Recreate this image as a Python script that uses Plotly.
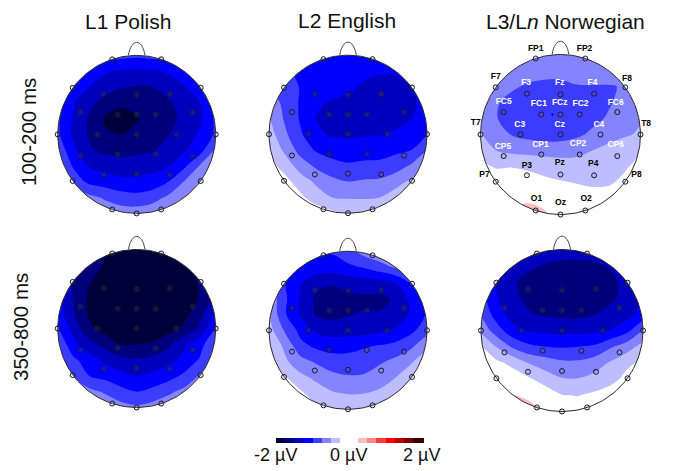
import numpy as np
import plotly.graph_objects as go

# scalp voltage at fixed head coordinates (uV)
# rows go from the nose (y=1.2) to the back (y=-1.2), columns left to right
grid_x = [-1.2, -1.0, -0.8, -0.6, -0.4, -0.2, 0.0, 0.2, 0.4, 0.6, 0.8, 1.0, 1.2]
grid_y = [1.2, 1.0, 0.8, 0.6, 0.4, 0.2, 0.0, -0.2, -0.4, -0.6, -0.8, -1.0, -1.2]

l1_early = [
    [-.70, -.70, -.75, -.80, -.80, -.80, -.80, -.80, -.80, -.80, -.75, -.70, -.70],
    [-.70, -.75, -.80, -.85, -.90, -.92, -.95, -.92, -.90, -.85, -.80, -.75, -.70],
    [-.75, -.80, -.90, -1.05, -1.22, -1.28, -1.28, -1.28, -1.22, -1.05, -.90, -.80, -.75],
    [-.75, -.85, -1.03, -1.25, -1.38, -1.48, -1.52, -1.50, -1.38, -1.27, -1.04, -.85, -.75],
    [-.75, -.90, -1.23, -1.43, -1.60, -1.68, -1.66, -1.60, -1.54, -1.38, -1.25, -.92, -.75],
    [-.75, -.95, -1.28, -1.54, -1.78, -1.90, -1.78, -1.64, -1.57, -1.44, -1.29, -.95, -.75],
    [-.75, -.95, -1.30, -1.53, -1.72, -1.75, -1.66, -1.60, -1.51, -1.35, -1.22, -.95, -.70],
    [-.65, -.80, -1.20, -1.47, -1.55, -1.57, -1.55, -1.52, -1.42, -1.28, -1.10, -.70, -.55],
    [-.60, -.73, -1.03, -1.27, -1.35, -1.40, -1.38, -1.33, -1.27, -1.05, -.73, -.55, -.45],
    [-.50, -.60, -.85, -1.06, -1.12, -1.18, -1.18, -1.15, -1.00, -.74, -.55, -.40, -.30],
    [-.45, -.50, -.60, -.68, -.78, -.88, -.92, -.85, -.70, -.50, -.38, -.30, -.25],
    [-.40, -.45, -.50, -.55, -.60, -.62, -.62, -.58, -.48, -.38, -.30, -.25, -.20],
    [-.35, -.38, -.40, -.42, -.45, -.45, -.45, -.42, -.38, -.30, -.25, -.20, -.20],
]
l2_early = [
    [-.95, -1.0, -1.05, -1.05, -1.05, -1.05, -1.05, -1.05, -1.05, -1.05, -1.05, -1.05, -1.05],
    [-.95, -1.0, -1.05, -1.08, -1.10, -1.12, -1.12, -1.12, -1.12, -1.12, -1.10, -1.08, -1.05],
    [-.85, -.90, -.97, -1.05, -1.10, -1.13, -1.15, -1.20, -1.22, -1.22, -1.20, -1.10, -1.05],
    [-.70, -.75, -.85, -1.02, -1.08, -1.13, -1.20, -1.28, -1.33, -1.33, -1.27, -1.12, -1.05],
    [-.55, -.60, -.82, -1.03, -1.20, -1.28, -1.32, -1.35, -1.38, -1.38, -1.32, -1.12, -1.00],
    [-.40, -.50, -.78, -1.03, -1.26, -1.33, -1.36, -1.38, -1.40, -1.37, -1.26, -1.10, -1.00],
    [-.30, -.38, -.70, -.97, -1.20, -1.28, -1.30, -1.28, -1.27, -1.20, -1.13, -1.02, -.90],
    [-.20, -.27, -.55, -.85, -1.03, -1.10, -1.12, -1.10, -1.08, -1.05, -1.00, -.76, -.65],
    [-.10, -.15, -.35, -.62, -.80, -.92, -.97, -.95, -.95, -.87, -.72, -.50, -.40],
    [0.0, -.10, -.17, -.37, -.55, -.68, -.75, -.72, -.70, -.60, -.45, -.30, -.20],
    [0.0, 0.0, -.05, -.20, -.38, -.50, -.52, -.52, -.50, -.38, -.28, -.20, -.10],
    [0.0, 0.0, 0.0, 0.0, -.10, -.20, -.30, -.32, -.33, -.28, -.20, -.10, 0.0],
    [0.0, 0.0, 0.0, 0.0, 0.0, -.10, -.15, -.20, -.20, -.15, -.10, 0.0, 0.0],
]
l3_early = [
    [-.60, -.60, -.60, -.60, -.60, -.60, -.60, -.60, -.60, -.60, -.60, -.60, -.60],
    [-.55, -.55, -.60, -.62, -.62, -.62, -.62, -.62, -.62, -.62, -.60, -.55, -.55],
    [-.50, -.52, -.55, -.60, -.65, -.68, -.70, -.68, -.66, -.65, -.62, -.58, -.55],
    [-.50, -.52, -.60, -.72, -.78, -.80, -.79, -.76, -.76, -.76, -.74, -.60, -.55],
    [-.45, -.52, -.73, -.82, -.85, -.87, -.87, -.87, -.85, -.78, -.66, -.58, -.55],
    [-.45, -.52, -.74, -.85, -.92, -.96, -.95, -.92, -.82, -.72, -.62, -.52, -.48],
    [-.42, -.48, -.62, -.77, -.83, -.87, -.86, -.80, -.70, -.60, -.53, -.47, -.42],
    [-.30, -.38, -.50, -.56, -.58, -.60, -.60, -.57, -.50, -.42, -.35, -.28, -.22],
    [-.15, -.20, -.27, -.26, -.29, -.33, -.38, -.40, -.40, -.37, -.28, -.18, -.10],
    [-.10, -.12, -.12, -.12, -.15, -.20, -.23, -.26, -.29, -.28, -.20, -.12, -.08],
    [-.05, -.05, -.05, .05, .10, 0.0, -.10, -.12, -.14, -.14, -.10, -.08, -.05],
    [-.05, 0.0, .10, .40, .60, .35, -.05, -.10, -.10, -.10, -.08, -.05, -.05],
    [-.05, 0.0, .10, .40, .60, .40, 0.0, -.05, -.05, -.05, -.05, -.05, -.05],
]
l1_late = [
    [-1.35, -1.40, -1.50, -1.70, -1.80, -1.85, -1.85, -1.85, -1.80, -1.70, -1.50, -1.40, -1.35],
    [-1.35, -1.40, -1.50, -1.65, -1.75, -1.85, -1.88, -1.85, -1.80, -1.65, -1.50, -1.40, -1.35],
    [-1.30, -1.35, -1.45, -1.65, -1.78, -1.90, -1.95, -1.95, -1.90, -1.80, -1.60, -1.45, -1.35],
    [-1.20, -1.28, -1.52, -1.73, -1.85, -2.00, -2.00, -2.00, -2.00, -1.85, -1.72, -1.47, -1.30],
    [-1.10, -1.15, -1.52, -1.80, -1.90, -2.00, -2.10, -2.10, -2.00, -1.90, -1.73, -1.45, -1.30],
    [-.95, -1.12, -1.49, -1.80, -1.95, -2.05, -2.10, -2.05, -2.00, -1.85, -1.60, -1.20, -1.05],
    [-.80, -.97, -1.35, -1.70, -1.85, -1.95, -1.95, -1.92, -1.85, -1.70, -1.47, -1.00, -.85],
    [-.65, -.77, -1.18, -1.42, -1.60, -1.76, -1.75, -1.72, -1.56, -1.30, -1.10, -.75, -.60],
    [-.55, -.65, -.95, -1.12, -1.30, -1.42, -1.47, -1.42, -1.33, -1.18, -.97, -.65, -.50],
    [-.45, -.55, -.77, -1.00, -1.08, -1.18, -1.25, -1.20, -1.10, -.95, -.72, -.50, -.40],
    [-.40, -.48, -.60, -.68, -.78, -.92, -1.00, -.92, -.80, -.68, -.52, -.42, -.35],
    [-.35, -.40, -.45, -.50, -.58, -.65, -.70, -.65, -.58, -.50, -.42, -.35, -.30],
    [-.30, -.35, -.38, -.40, -.42, -.45, -.45, -.45, -.42, -.38, -.33, -.30, -.25],
]
l2_late = [
    [-.75, -.80, -.85, -.85, -.85, -.80, -.60, -.50, -.40, -.40, -.45, -.55, -.60],
    [-.75, -.80, -.85, -.90, -.95, -.97, -.85, -.65, -.55, -.50, -.55, -.60, -.65],
    [-.60, -.70, -.90, -1.00, -1.10, -1.12, -1.05, -.98, -.85, -.72, -.65, -.70, -.70],
    [-.55, -.60, -.98, -1.23, -1.43, -1.48, -1.42, -1.38, -1.35, -1.25, -.98, -.70, -.60],
    [-.45, -.55, -.95, -1.28, -1.55, -1.60, -1.56, -1.55, -1.56, -1.47, -1.18, -.90, -.75],
    [-.40, -.50, -.97, -1.27, -1.53, -1.58, -1.52, -1.48, -1.48, -1.40, -1.22, -.97, -.80],
    [-.30, -.40, -.78, -1.08, -1.30, -1.37, -1.36, -1.35, -1.30, -1.22, -1.06, -.85, -.70],
    [-.20, -.27, -.55, -.93, -1.05, -1.10, -1.08, -1.03, -.98, -.92, -.80, -.55, -.40],
    [-.10, -.20, -.45, -.65, -.78, -.88, -.90, -.85, -.78, -.68, -.52, -.35, -.25],
    [-.05, -.10, -.22, -.43, -.55, -.67, -.72, -.72, -.62, -.50, -.35, -.25, -.20],
    [0.0, -.05, -.10, -.20, -.38, -.47, -.51, -.50, -.45, -.38, -.30, -.20, -.15],
    [0.0, 0.0, -.05, -.10, -.20, -.28, -.32, -.33, -.32, -.30, -.22, -.15, -.10],
    [0.0, 0.0, 0.0, -.05, -.10, -.18, -.20, -.20, -.20, -.20, -.15, -.10, -.05],
]
l3_late = [
    [-1.20, -1.25, -1.30, -1.35, -1.35, -1.35, -1.35, -1.35, -1.35, -1.35, -1.30, -1.25, -1.20],
    [-1.15, -1.20, -1.25, -1.30, -1.32, -1.35, -1.38, -1.38, -1.35, -1.32, -1.30, -1.25, -1.20],
    [-1.05, -1.10, -1.20, -1.30, -1.45, -1.52, -1.56, -1.57, -1.55, -1.47, -1.35, -1.25, -1.15],
    [-.95, -1.00, -1.27, -1.47, -1.60, -1.65, -1.68, -1.68, -1.65, -1.58, -1.40, -1.20, -1.05],
    [-.85, -.90, -1.24, -1.45, -1.57, -1.62, -1.65, -1.65, -1.62, -1.55, -1.42, -1.20, -1.05],
    [-.75, -.80, -1.12, -1.38, -1.48, -1.53, -1.56, -1.56, -1.51, -1.42, -1.35, -1.15, -.95],
    [-.45, -.56, -.90, -1.17, -1.28, -1.30, -1.32, -1.32, -1.30, -1.24, -1.07, -.75, -.60],
    [-.20, -.25, -.52, -.80, -.95, -1.00, -1.02, -1.00, -.96, -.78, -.62, -.40, -.30],
    [-.10, -.12, -.20, -.32, -.52, -.62, -.70, -.70, -.62, -.47, -.30, -.20, -.12],
    [-.05, -.05, -.10, -.12, -.22, -.37, -.48, -.49, -.42, -.33, -.18, -.10, -.05],
    [0.0, .05, .45, .28, .03, -.10, -.24, -.26, -.20, -.12, -.08, -.05, 0.0],
    [0.0, .10, .60, .80, .62, .08, -.05, -.10, -.08, -.05, -.03, 0.0, 0.0],
    [0.0, .10, .60, .80, .62, .08, -.05, -.05, -.05, -.03, 0.0, 0.0, 0.0],
]

# electrode montage in head coordinates
elec_names = ["FP1", "FP2", "F7", "F8", "F3", "Fz", "F4", "FC5", "FC1", "FCz", "FC2", "FC6",
              "T7", "C3", "Cz", "C4", "T8", "CP5", "CP1", "CP2", "CP6",
              "P7", "P3", "Pz", "P4", "P8", "O1", "Oz", "O2"]
elec_x = [-.31, .31, -.81, .81, -.42, 0.0, .42, -.71, -.24, 0.0, .24, .71,
          -1.0, -.50, 0.0, .50, 1.0, -.71, -.24, .24, .71,
          -.81, -.42, 0.0, .42, .81, -.31, 0.0, .31]
elec_y = [.95, .95, .59, .59, .51, .50, .51, .28, .25, .25, .25, .28,
          0.0, 0.0, 0.0, 0.0, 0.0, -.27, -.25, -.25, -.27,
          -.59, -.51, -.50, -.51, -.59, -.95, -1.0, -.95]
label_x = [-.31, .30, -.81, .83, -.43, -.01, .40, -.71, -.27, -.01, .25, .69,
           -1.06, -.51, -.01, .48, 1.07, -.72, -.25, .22, .69,
           -.95, -.42, -.01, .41, .95, -.30, 0.0, .32]
label_y = [1.07, 1.07, .72, .70, .65, .64, .65, .41, .38, .39, .38, .40,
           .14, .12, .12, .12, .13, -.15, -.13, -.12, -.13,
           -.51, -.39, -.35, -.37, -.50, -.81, -.85, -.81]
white_labels = ["F3", "Fz", "F4", "FC5", "FC1", "FCz", "FC2", "FC6", "C3", "Cz", "C4",
                "CP5", "CP1", "CP2", "CP6"]

# the stray blue dot next to FCz on the L3 map
dot_x = [-.10]
dot_y = [.25]

col_titles = ["L1 Polish", "L2 English", "L3/L<i>n</i> Norwegian"]
row_titles = ["100-200 ms", "350-800 ms"]
bar_ticks = [-2, 0, 2]
bar_labels = ["-2 µV", "0 µV", "2 µV"]

W, H = 680, 471

# (values, centre x, centre y, radius) in page pixels
panels = [
    (l1_early, 136.7, 134.4, 79),
    (l2_early, 348.0, 134.2, 79),
    (l3_early, 560.5, 134.5, 80),
    (l1_late, 136.7, 328.5, 79),
    (l2_late, 348.0, 330.3, 79),
    (l3_late, 562.0, 330.5, 81),
]

band_colors = ["#00003a", "#00007d", "#0000bd", "#0000ff", "#3c3cff", "#8484ff", "#bdbdff", "#ffffff",
               "#ffffff", "#ffbdbd", "#ff8484", "#ff3c3c", "#ff0000", "#bd0000", "#7d0000", "#3a0000"]
scale = []
for i, c in enumerate(band_colors):
    scale.append([i / len(band_colors), c])
    scale.append([(i + 1) / len(band_colors), c])

fig = go.Figure()

t = np.linspace(0, 2 * np.pi, 181)
shapes = []
for n, (z, cx, cy, r) in enumerate(panels):
    fig.add_trace(go.Contour(
        x=[cx + r * v for v in grid_x],
        y=[cy - r * v for v in grid_y],
        z=z,
        zmin=-2, zmax=2,
        colorscale=scale,
        autocontour=False,
        contours=dict(start=-2, end=2, size=0.25, coloring="fill", showlines=False),
        line=dict(width=0, smoothing=1.0),
        hoverinfo="skip",
        showscale=n == 0,
        colorbar=dict(orientation="h", thickness=5, len=146 / W, lenmode="fraction",
                      x=348.7 / W, xanchor="center", y=1 - 438.0 / H, yanchor="top",
                      xpad=0, ypad=0, outlinewidth=0, borderwidth=0,
                      tickmode="array", tickvals=bar_ticks, ticks="", showticklabels=False),
    ))

for z, cx, cy, r in panels:
    # white keyhole polygon hides the map outside the head, hole runs the other way round
    m = 1.22 * r
    mask_x = [cx - m, cx + m, cx + m, cx - m, cx - m, cx] + list(cx - r * np.sin(t)) + [cx, cx - m]
    mask_y = [cy - m, cy - m, cy + m, cy + m, cy - m, cy - m] + list(cy - r * np.cos(t)) + [cy - m, cy - m]
    fig.add_trace(go.Scatter(x=mask_x, y=mask_y, mode="lines", fill="toself", fillcolor="white",
                             line=dict(width=0), hoverinfo="skip", showlegend=False))
    fig.add_trace(go.Scatter(x=list(cx + r * np.sin(t)), y=list(cy - r * np.cos(t)), mode="lines",
                             line=dict(color="#2a2a2a", width=1), hoverinfo="skip", showlegend=False))
    fig.add_trace(go.Scatter(x=[cx + r * v for v in elec_x], y=[cy - r * v for v in elec_y],
                             mode="markers",
                             marker=dict(size=5, color="rgba(128,128,160,0.15)",
                                         line=dict(color="#1a1a2a", width=1)),
                             hoverinfo="skip", showlegend=False))
    # nose
    shapes.append(dict(type="path", xref="x", yref="y", line=dict(color="#444444", width=1),
                       path=f"M {cx - .105 * r} {cy - r} C {cx - .07 * r} {cy - 1.22 * r}, "
                            f"{cx + .07 * r} {cy - 1.22 * r}, {cx + .105 * r} {cy - r}"))

# channel names only on the last head of the top row
z, cx, cy, r = panels[2]
fig.add_trace(go.Scatter(
    x=[cx + r * v for v in dot_x], y=[cy - r * v for v in dot_y], mode="markers",
    marker=dict(size=2.5, color="#0000ff"), hoverinfo="skip", showlegend=False))
fig.add_trace(go.Scatter(
    x=[cx + r * v for v in label_x], y=[cy - r * v for v in label_y],
    mode="text", text=elec_names,
    textfont=dict(family="Liberation Sans", size=8.5,
                  color=["white" if name in white_labels else "black" for name in elec_names],
                  weight="bold"),
    hoverinfo="skip", showlegend=False))

annotations = []
for title, x, y in zip(col_titles, [128, 347, 565], [21, 20, 21]):
    annotations.append(dict(x=x, y=y, text=title, showarrow=False, xref="x", yref="y",
                            font=dict(family="Liberation Sans", size=21, color="#111111")))
for title, x, y in zip(row_titles, [28, 20], [132, 327]):
    annotations.append(dict(x=x, y=y, text=title, showarrow=False, xref="x", yref="y", textangle=-90,
                            font=dict(family="Liberation Sans", size=20.5, color="#111111")))
for v, label in zip(bar_ticks, bar_labels):
    annotations.append(dict(x=348.7 + 73 * v / 2, y=455, text=label, showarrow=False, xref="x", yref="y",
                            font=dict(family="Liberation Sans", size=18, color="#111111")))

fig.update_layout(
    width=W, height=H,
    margin=dict(l=0, r=0, t=0, b=0),
    paper_bgcolor="white", plot_bgcolor="white",
    showlegend=False,
    xaxis=dict(range=[0, W], visible=False, fixedrange=True),
    yaxis=dict(range=[H, 0], visible=False, fixedrange=True),
    shapes=shapes,
    annotations=annotations,
)

# the page body has a default margin that would push the figure down and right
fig.write_html("out.html", config={"displayModeBar": False},
               post_script="document.body.style.margin='0';")
